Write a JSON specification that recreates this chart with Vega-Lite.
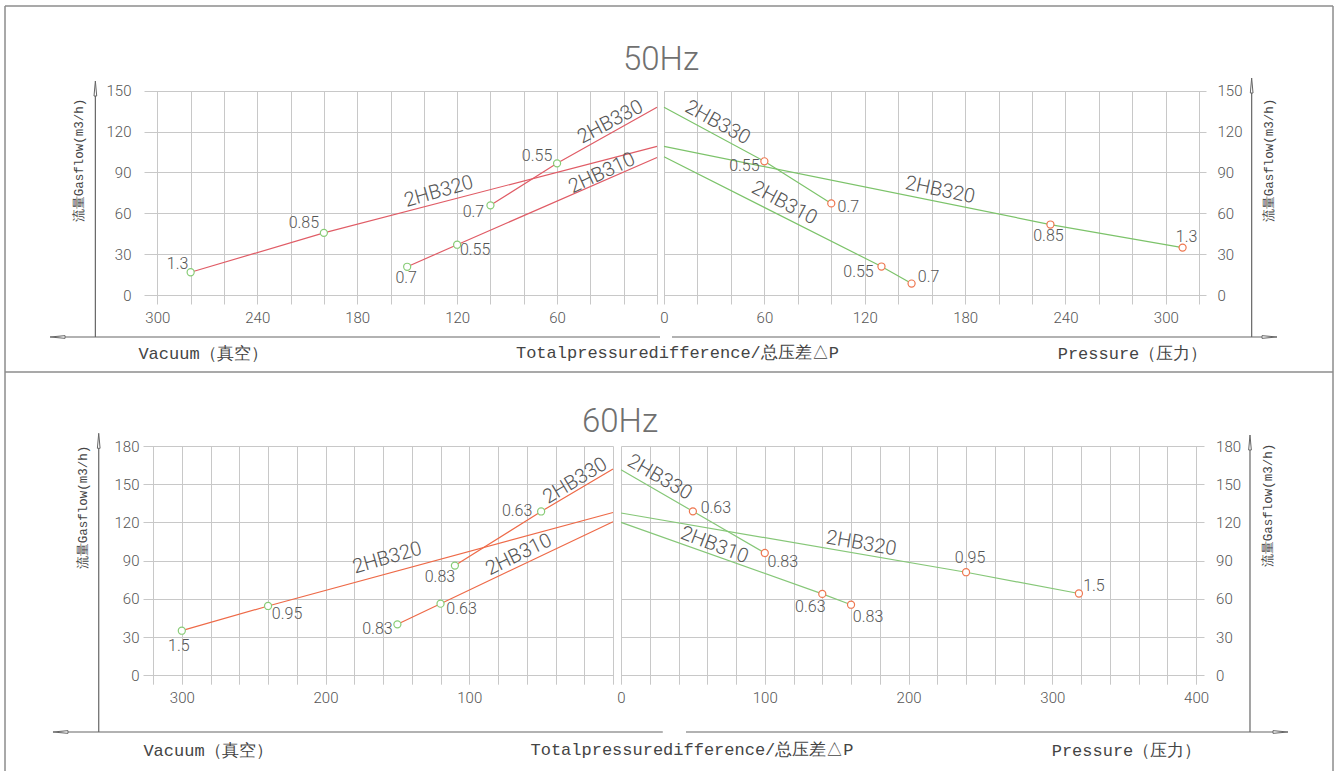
{
"$schema":"https://vega.github.io/schema/vega-lite/v6.json",
"width":1328,"height":765,
"padding":{"left":5,"top":6,"right":4,"bottom":0},
"autosize":{"type":"none"},
"config":{
 "view":{"stroke":null},
 "axis":{"labelFont":"Roboto","labelFontSize":15,"labelFontWeight":300,"labelColor":"#555555","gridColor":"#c8c8c8","gridWidth":1,"domain":false,"ticks":false,"labelFlush":false,"labelOverlap":false,"titleFont":"Liberation Mono","titleFontWeight":"normal","titleColor":"#444444","titleFontSize":17,"titleBaseline":"middle","titleAlign":"center"}
},
"datasets":{
 "vac50":[
  {"model":"2HB310","dp":0,"flow":101,"kw":null},
  {"model":"2HB310","dp":120,"flow":37,"kw":"0.55"},
  {"model":"2HB310","dp":150,"flow":20.8,"kw":"0.7"},
  {"model":"2HB320","dp":0,"flow":109.2,"kw":null},
  {"model":"2HB320","dp":200,"flow":45.7,"kw":"0.85"},
  {"model":"2HB320","dp":280,"flow":16.8,"kw":"1.3"},
  {"model":"2HB330","dp":0,"flow":137.8,"kw":null},
  {"model":"2HB330","dp":60,"flow":96.7,"kw":"0.55"},
  {"model":"2HB330","dp":100,"flow":65.9,"kw":"0.7"}
 ],
 "prs50":[
  {"model":"2HB310","dp":0,"flow":101.5,"kw":null},
  {"model":"2HB310","dp":130,"flow":21,"kw":"0.55"},
  {"model":"2HB310","dp":148,"flow":8.5,"kw":"0.7"},
  {"model":"2HB320","dp":0,"flow":109.2,"kw":null},
  {"model":"2HB320","dp":231,"flow":51.8,"kw":"0.85"},
  {"model":"2HB320","dp":310,"flow":34.9,"kw":"1.3"},
  {"model":"2HB330","dp":0,"flow":137.8,"kw":null},
  {"model":"2HB330","dp":60,"flow":98.2,"kw":"0.55"},
  {"model":"2HB330","dp":100,"flow":67.3,"kw":"0.7"}
 ],
 "vac60":[
  {"model":"2HB310","dp":0,"flow":120.5,"kw":null},
  {"model":"2HB310","dp":120,"flow":56.2,"kw":"0.63"},
  {"model":"2HB310","dp":150,"flow":40,"kw":"0.83"},
  {"model":"2HB320","dp":0,"flow":127.8,"kw":null},
  {"model":"2HB320","dp":240,"flow":54.4,"kw":"0.95"},
  {"model":"2HB320","dp":300,"flow":35,"kw":"1.5"},
  {"model":"2HB330","dp":0,"flow":162,"kw":null},
  {"model":"2HB330","dp":50,"flow":128.6,"kw":"0.63"},
  {"model":"2HB330","dp":110,"flow":86.1,"kw":"0.83"}
 ],
 "prs60":[
  {"model":"2HB310","dp":0,"flow":120,"kw":null},
  {"model":"2HB310","dp":140,"flow":63.9,"kw":"0.63"},
  {"model":"2HB310","dp":160,"flow":55.4,"kw":"0.83"},
  {"model":"2HB320","dp":0,"flow":127.4,"kw":null},
  {"model":"2HB320","dp":240,"flow":80.9,"kw":"0.95"},
  {"model":"2HB320","dp":318.5,"flow":64.2,"kw":"1.5"},
  {"model":"2HB330","dp":0,"flow":161.3,"kw":null},
  {"model":"2HB330","dp":50,"flow":128.7,"kw":"0.63"},
  {"model":"2HB330","dp":100,"flow":96,"kw":"0.83"}
 ]
},
"resolve":{"scale":{"x":"independent","y":"independent"}},
"layer":[
 {
  "resolve":{"axis":{"x":"independent","y":"independent"}},
  "layer":[
   {"data":{"name":"vac50"},"mark":{"type":"line","color":"#e05c66","strokeWidth":1.2},
    "encoding":{
     "x":{"field":"dp","type":"quantitative","scale":{"domain":[0,308],"range":[652,139],"nice":false,"zero":false},"axis":{"orient":"top","values":[0,20,40,60,80,100,120,140,160,180,200,220,240,260,280,300],"grid":true,"labels":false,"title":null}},
     "y":{"field":"flow","type":"quantitative","scale":{"domain":[-6.5,150],"range":[298,84.7],"nice":false,"zero":false},"axis":{"orient":"left","values":[0,30,60,90,120,150],"grid":true,"offset":-139,"labelPadding":13,"title":"流量Gasflow(m3/h)","titleX":-66,"titleY":154,"titleFontSize":12.5}},
     "detail":{"field":"model"}}},
   {"data":{"name":"vac50"},"transform":[{"filter":"datum.kw"}],"mark":{"type":"point","shape":"circle","size":50,"filled":true,"fill":"white","stroke":"#88cc77","strokeWidth":1.2,"opacity":1},
    "encoding":{
     "x":{"field":"dp","type":"quantitative","axis":{"orient":"bottom","values":[60,120,180,240,300],"grid":false,"offset":-467,"labelPadding":6,"title":"Vacuum（真空）","titleX":197.5,"titleY":49}},
     "y":{"field":"flow","type":"quantitative","axis":null}}},
   {"data":{"name":"vac50"},"transform":[{"filter":"datum.kw"}],"mark":{"type":"text","font":"Roboto","fontSize":16,"fontWeight":300,"color":"#555555","align":"center","baseline":"middle",
     "dx":{"expr":"({'2HB310|0.55':18,'2HB310|0.7':-1,'2HB320|0.85':-20,'2HB320|1.3':-13,'2HB330|0.55':-20,'2HB330|0.7':-17})[datum.model+'|'+datum.kw]"},
     "dy":{"expr":"({'2HB310|0.55':5,'2HB310|0.7':11,'2HB320|0.85':-10,'2HB320|1.3':-8,'2HB330|0.55':-7,'2HB330|0.7':7})[datum.model+'|'+datum.kw]"}},
    "encoding":{"x":{"field":"dp","type":"quantitative","axis":null},"y":{"field":"flow","type":"quantitative","axis":null},"text":{"field":"kw"}}},
   {"data":{"values":[{}]},"mark":{"type":"text","text":"2HB320","font":"Roboto","fontSize":20,"fontWeight":300,"color":"#555555","angle":-16},"encoding":{"x":{"datum":131,"axis":null},"y":{"datum":76,"axis":null}}},
   {"data":{"values":[{}]},"mark":{"type":"text","text":"2HB330","font":"Roboto","fontSize":20,"fontWeight":300,"color":"#555555","angle":-28},"encoding":{"x":{"datum":28,"axis":null},"y":{"datum":127,"axis":null}}},
   {"data":{"values":[{}]},"mark":{"type":"text","text":"2HB310","font":"Roboto","fontSize":20,"fontWeight":300,"color":"#555555","angle":-25},"encoding":{"x":{"datum":33,"axis":null},"y":{"datum":89.5,"axis":null}}},
   {"data":{"values":[{}]},"mark":{"type":"text","text":"50Hz","font":"Roboto","fontSize":33,"fontWeight":300,"color":"#707070"},"encoding":{"x":{"datum":-2.4,"axis":null},"y":{"datum":172.5,"axis":null}}},
   {"data":{"values":[{}]},"mark":{"type":"text","text":"Totalpressuredifference/总压差△P","font":"Liberation Mono","fontSize":17,"color":"#444444"},"encoding":{"x":{"datum":-12.3,"axis":null},"y":{"datum":-42.45,"axis":null}}},
   {"data":{"values":[{}]},"mark":{"type":"rule","color":"#8c8c8c","strokeWidth":1.5},"encoding":{"y":{"datum":-56.39,"axis":null}}},
   {"data":{"values":[{}]},"mark":{"type":"rule","color":"#8c8c8c","strokeWidth":1.5},"encoding":{"y":{"datum":212.14,"axis":null}}},
   {"data":{"values":[{}]},"mark":{"type":"rule","color":"#8c8c8c","strokeWidth":1.5},"encoding":{"x":{"datum":391.45,"axis":null}}},
   {"data":{"values":[{}]},"mark":{"type":"rule","color":"#8c8c8c","strokeWidth":1.5},"encoding":{"x":{"datum":-405.87,"axis":null}}},
   {"data":{"values":[{}]},"mark":{"type":"rule","color":"#666666","strokeWidth":1.2},"encoding":{"x":{"datum":337.2,"axis":null},"y":{"datum":-30.71,"axis":null},"y2":{"datum":151.6}}},
   {"data":{"values":[{}]},"mark":{"type":"rule","color":"#666666","strokeWidth":1.2},"encoding":{"x":{"datum":-1.8,"axis":null},"x2":{"datum":359.9},"y":{"datum":-30.71,"axis":null}}},
   {"data":{"values":[{}]},"mark":{"type":"point","shape":"M-0.18,1L0,-1L0.18,1Z","size":225,"filled":true,"fill":"white","stroke":"#666666","strokeWidth":1,"opacity":1},"encoding":{"x":{"datum":337.2,"axis":null},"y":{"datum":151.6,"axis":null}}},
   {"data":{"values":[{}]},"mark":{"type":"point","shape":"M1,-0.18L-1,0L1,0.18Z","size":225,"filled":true,"fill":"white","stroke":"#666666","strokeWidth":1,"opacity":1},"encoding":{"x":{"datum":359.9,"axis":null},"y":{"datum":-30.71,"axis":null}}}
  ]
 },
 {
  "resolve":{"axis":{"x":"independent","y":"independent"}},
  "layer":[
   {"data":{"name":"prs50"},"mark":{"type":"line","color":"#7cc36a","strokeWidth":1.2},
    "encoding":{
     "x":{"field":"dp","type":"quantitative","scale":{"domain":[0,324],"range":[659,1201],"nice":false,"zero":false},"axis":{"orient":"top","values":[0,20,40,60,80,100,120,140,160,180,200,220,240,260,280,300,320],"grid":true,"labels":false,"title":null}},
     "y":{"field":"flow","type":"quantitative","scale":{"domain":[-6.5,150],"range":[298,84.7],"nice":false,"zero":false},"axis":{"orient":"left","values":[0,30,60,90,120,150],"grid":true,"labels":false,"title":null}},
     "detail":{"field":"model"}}},
   {"data":{"name":"prs50"},"transform":[{"filter":"datum.kw"}],"mark":{"type":"point","shape":"circle","size":50,"filled":true,"fill":"white","stroke":"#ee7750","strokeWidth":1.2,"opacity":1},
    "encoding":{
     "x":{"field":"dp","type":"quantitative","axis":{"orient":"bottom","values":[0,60,120,180,240,300],"grid":false,"offset":-467,"labelPadding":6,"title":"Pressure（压力）","titleX":1127,"titleY":49}},
     "y":{"field":"flow","type":"quantitative","axis":{"orient":"right","values":[0,30,60,90,120,150],"grid":false,"offset":-127,"labelPadding":11,"title":"流量Gasflow(m3/h)","titleAngle":-90,"titleX":62.8,"titleY":154,"titleFontSize":12.5}}}},
   {"data":{"name":"prs50"},"transform":[{"filter":"datum.kw"}],"mark":{"type":"text","font":"Roboto","fontSize":16,"fontWeight":300,"color":"#555555","align":"center","baseline":"middle",
     "dx":{"expr":"({'2HB310|0.55':-23,'2HB310|0.7':17,'2HB320|0.85':-2,'2HB320|1.3':4,'2HB330|0.55':-20,'2HB330|0.7':17})[datum.model+'|'+datum.kw]"},
     "dy":{"expr":"({'2HB310|0.55':5,'2HB310|0.7':-7,'2HB320|0.85':11,'2HB320|1.3':-11,'2HB330|0.55':5,'2HB330|0.7':4})[datum.model+'|'+datum.kw]"}},
    "encoding":{"x":{"field":"dp","type":"quantitative","axis":null},"y":{"field":"flow","type":"quantitative","axis":null},"text":{"field":"kw"}}},
   {"data":{"values":[{}]},"mark":{"type":"text","text":"2HB330","font":"Roboto","fontSize":20,"fontWeight":300,"color":"#555555","angle":29},"encoding":{"x":{"datum":32,"axis":null},"y":{"datum":126.6,"axis":null}}},
   {"data":{"values":[{}]},"mark":{"type":"text","text":"2HB310","font":"Roboto","fontSize":20,"fontWeight":300,"color":"#555555","angle":28},"encoding":{"x":{"datum":72,"axis":null},"y":{"datum":67.5,"axis":null}}},
   {"data":{"values":[{}]},"mark":{"type":"text","text":"2HB320","font":"Roboto","fontSize":20,"fontWeight":300,"color":"#555555","angle":12},"encoding":{"x":{"datum":165,"axis":null},"y":{"datum":77,"axis":null}}},
   {"data":{"values":[{}]},"mark":{"type":"rule","color":"#666666","strokeWidth":1.2},"encoding":{"x":{"datum":4.78,"axis":null},"x2":{"datum":361.96},"y":{"datum":-30.71,"axis":null}}},
   {"data":{"values":[{}]},"mark":{"type":"rule","color":"#666666","strokeWidth":1.2},"encoding":{"x":{"datum":351.3,"axis":null},"y":{"datum":-30.71,"axis":null},"y2":{"datum":153.8}}},
   {"data":{"values":[{}]},"mark":{"type":"point","shape":"M-1,-0.18L1,0L-1,0.18Z","size":225,"filled":true,"fill":"white","stroke":"#666666","strokeWidth":1,"opacity":1},"encoding":{"x":{"datum":361.96,"axis":null},"y":{"datum":-30.71,"axis":null}}},
   {"data":{"values":[{}]},"mark":{"type":"point","shape":"M-0.18,1L0,-1L0.18,1Z","size":225,"filled":true,"fill":"white","stroke":"#666666","strokeWidth":1,"opacity":1},"encoding":{"x":{"datum":351.3,"axis":null},"y":{"datum":153.8,"axis":null}}}
  ]
 },
 {
  "resolve":{"axis":{"x":"independent","y":"independent"}},
  "layer":[
   {"data":{"name":"vac60"},"mark":{"type":"line","color":"#ee6a48","strokeWidth":1.2},
    "encoding":{
     "x":{"field":"dp","type":"quantitative","scale":{"domain":[0,327],"range":[608,138],"nice":false,"zero":false},"axis":{"orient":"top","values":[0,20,40,60,80,100,120,140,160,180,200,220,240,260,280,300,320],"grid":true,"labels":false,"title":null}},
     "y":{"field":"flow","type":"quantitative","scale":{"domain":[-7,180],"range":[678.2,440],"nice":false,"zero":false},"axis":{"orient":"left","values":[0,30,60,90,120,150,180],"grid":true,"offset":-138,"labelPadding":4,"title":"流量Gasflow(m3/h)","titleX":-61,"titleY":501,"titleFontSize":12.5}},
     "detail":{"field":"model"}}},
   {"data":{"name":"vac60"},"transform":[{"filter":"datum.kw"}],"mark":{"type":"point","shape":"circle","size":50,"filled":true,"fill":"white","stroke":"#88cc77","strokeWidth":1.2,"opacity":1},
    "encoding":{
     "x":{"field":"dp","type":"quantitative","axis":{"orient":"bottom","values":[100,200,300],"grid":false,"offset":-86.8,"labelPadding":6,"title":"Vacuum（真空）","titleX":202.5,"titleY":65.8}},
     "y":{"field":"flow","type":"quantitative","axis":null}}},
   {"data":{"name":"vac60"},"transform":[{"filter":"datum.kw"}],"mark":{"type":"text","font":"Roboto","fontSize":16,"fontWeight":300,"color":"#555555","align":"center","baseline":"middle",
     "dx":{"expr":"({'2HB310|0.63':21,'2HB310|0.83':-20,'2HB320|0.95':19,'2HB320|1.5':-3,'2HB330|0.63':-24,'2HB330|0.83':-15})[datum.model+'|'+datum.kw]"},
     "dy":{"expr":"({'2HB310|0.63':5,'2HB310|0.83':5,'2HB320|0.95':8,'2HB320|1.5':15,'2HB330|0.63':0,'2HB330|0.83':11})[datum.model+'|'+datum.kw]"}},
    "encoding":{"x":{"field":"dp","type":"quantitative","axis":null},"y":{"field":"flow","type":"quantitative","axis":null},"text":{"field":"kw"}}},
   {"data":{"values":[{}]},"mark":{"type":"text","text":"2HB320","font":"Roboto","fontSize":20,"fontWeight":300,"color":"#555555","angle":-16},"encoding":{"x":{"datum":157,"axis":null},"y":{"datum":92.1,"axis":null}}},
   {"data":{"values":[{}]},"mark":{"type":"text","text":"2HB330","font":"Roboto","fontSize":20,"fontWeight":300,"color":"#555555","angle":-31},"encoding":{"x":{"datum":26.3,"axis":null},"y":{"datum":152.7,"axis":null}}},
   {"data":{"values":[{}]},"mark":{"type":"text","text":"2HB310","font":"Roboto","fontSize":20,"fontWeight":300,"color":"#555555","angle":-26},"encoding":{"x":{"datum":65.5,"axis":null},"y":{"datum":94.7,"axis":null}}},
   {"data":{"values":[{}]},"mark":{"type":"text","text":"60Hz","font":"Roboto","fontSize":33,"fontWeight":300,"color":"#707070"},"encoding":{"x":{"datum":-4.87,"axis":null},"y":{"datum":199.07,"axis":null}}},
   {"data":{"values":[{}]},"mark":{"type":"text","text":"Totalpressuredifference/总压差△P","font":"Liberation Mono","fontSize":17,"color":"#444444"},"encoding":{"x":{"datum":-54.96,"axis":null},"y":{"datum":-58.68,"axis":null}}},
   {"data":{"values":[{}]},"mark":{"type":"rule","color":"#666666","strokeWidth":1.2},"encoding":{"x":{"datum":357.8,"axis":null},"y":{"datum":-44.53,"axis":null},"y2":{"datum":184.08}}},
   {"data":{"values":[{}]},"mark":{"type":"rule","color":"#666666","strokeWidth":1.2},"encoding":{"x":{"datum":-34.63,"axis":null},"x2":{"datum":384.4},"y":{"datum":-44.53,"axis":null}}},
   {"data":{"values":[{}]},"mark":{"type":"point","shape":"M-0.18,1L0,-1L0.18,1Z","size":225,"filled":true,"fill":"white","stroke":"#666666","strokeWidth":1,"opacity":1},"encoding":{"x":{"datum":357.8,"axis":null},"y":{"datum":184.08,"axis":null}}},
   {"data":{"values":[{}]},"mark":{"type":"point","shape":"M1,-0.18L-1,0L1,0.18Z","size":225,"filled":true,"fill":"white","stroke":"#666666","strokeWidth":1,"opacity":1},"encoding":{"x":{"datum":384.4,"axis":null},"y":{"datum":-44.53,"axis":null}}}
  ]
 },
 {
  "resolve":{"axis":{"x":"independent","y":"independent"}},
  "layer":[
   {"data":{"name":"prs60"},"mark":{"type":"line","color":"#86c778","strokeWidth":1.2},
    "encoding":{
     "x":{"field":"dp","type":"quantitative","scale":{"domain":[0,405.5],"range":[616,1199],"nice":false,"zero":false},"axis":{"orient":"top","values":[0,20,40,60,80,100,120,140,160,180,200,220,240,260,280,300,320,340,360,380,400],"grid":true,"labels":false,"title":null}},
     "y":{"field":"flow","type":"quantitative","scale":{"domain":[-7,180],"range":[678.2,440],"nice":false,"zero":false},"axis":{"orient":"left","values":[0,30,60,90,120,150,180],"grid":true,"labels":false,"title":null}},
     "detail":{"field":"model"}}},
   {"data":{"name":"prs60"},"transform":[{"filter":"datum.kw"}],"mark":{"type":"point","shape":"circle","size":50,"filled":true,"fill":"white","stroke":"#ee7750","strokeWidth":1.2,"opacity":1},
    "encoding":{
     "x":{"field":"dp","type":"quantitative","axis":{"orient":"bottom","values":[0,100,200,300,400],"grid":false,"offset":-86.8,"labelPadding":6,"title":"Pressure（压力）","titleX":1121,"titleY":65.8}},
     "y":{"field":"flow","type":"quantitative","axis":{"orient":"right","values":[0,30,60,90,120,150,180],"grid":false,"offset":-129,"labelPadding":11.6,"title":"流量Gasflow(m3/h)","titleAngle":-90,"titleX":63.3,"titleY":499,"titleFontSize":12.5}}}},
   {"data":{"name":"prs60"},"transform":[{"filter":"datum.kw"}],"mark":{"type":"text","font":"Roboto","fontSize":16,"fontWeight":300,"color":"#555555","align":"center","baseline":"middle",
     "dx":{"expr":"({'2HB310|0.63':-12,'2HB310|0.83':17,'2HB320|0.95':4,'2HB320|1.5':15,'2HB330|0.63':23,'2HB330|0.83':18})[datum.model+'|'+datum.kw]"},
     "dy":{"expr":"({'2HB310|0.63':13,'2HB310|0.83':12,'2HB320|0.95':-14,'2HB320|1.5':-8,'2HB330|0.63':-3,'2HB330|0.83':9})[datum.model+'|'+datum.kw]"}},
    "encoding":{"x":{"field":"dp","type":"quantitative","axis":null},"y":{"field":"flow","type":"quantitative","axis":null},"text":{"field":"kw"}}},
   {"data":{"values":[{}]},"mark":{"type":"text","text":"2HB330","font":"Roboto","fontSize":20,"fontWeight":300,"color":"#555555","angle":30},"encoding":{"x":{"datum":26.9,"axis":null},"y":{"datum":155.4,"axis":null}}},
   {"data":{"values":[{}]},"mark":{"type":"text","text":"2HB310","font":"Roboto","fontSize":20,"fontWeight":300,"color":"#555555","angle":21},"encoding":{"x":{"datum":65,"axis":null},"y":{"datum":102.2,"axis":null}}},
   {"data":{"values":[{}]},"mark":{"type":"text","text":"2HB320","font":"Roboto","fontSize":20,"fontWeight":300,"color":"#555555","angle":10},"encoding":{"x":{"datum":167.1,"axis":null},"y":{"datum":103.5,"axis":null}}},
   {"data":{"values":[{}]},"mark":{"type":"rule","color":"#666666","strokeWidth":1.2},"encoding":{"x":{"datum":45.21,"axis":null},"x2":{"datum":458.7},"y":{"datum":-44.53,"axis":null}}},
   {"data":{"values":[{}]},"mark":{"type":"rule","color":"#666666","strokeWidth":1.2},"encoding":{"x":{"datum":437.49,"axis":null},"y":{"datum":-44.53,"axis":null},"y2":{"datum":182.74}}},
   {"data":{"values":[{}]},"mark":{"type":"point","shape":"M-1,-0.18L1,0L-1,0.18Z","size":225,"filled":true,"fill":"white","stroke":"#666666","strokeWidth":1,"opacity":1},"encoding":{"x":{"datum":458.7,"axis":null},"y":{"datum":-44.53,"axis":null}}},
   {"data":{"values":[{}]},"mark":{"type":"point","shape":"M-0.18,1L0,-1L0.18,1Z","size":225,"filled":true,"fill":"white","stroke":"#666666","strokeWidth":1,"opacity":1},"encoding":{"x":{"datum":437.49,"axis":null},"y":{"datum":182.74,"axis":null}}}
  ]
 }
]
}
